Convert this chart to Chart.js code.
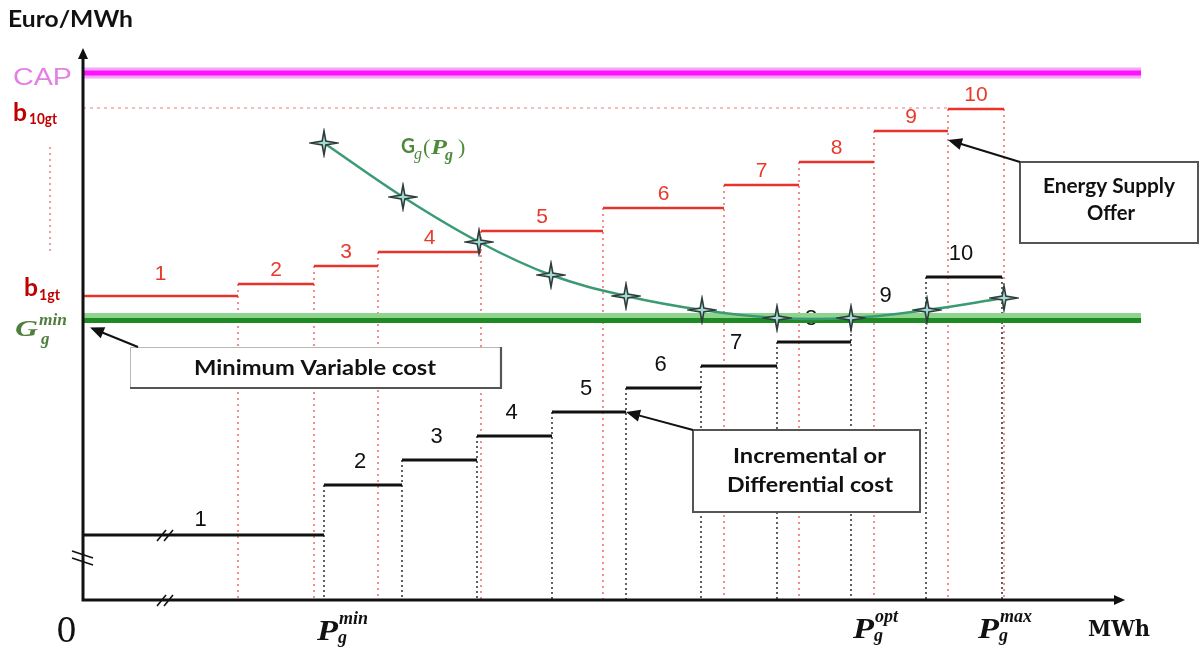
<!DOCTYPE html>
<html><head><meta charset="utf-8">
<script src="https://cdn.jsdelivr.net/npm/chart.js@4.4.1/dist/chart.umd.min.js"></script>
<style>html,body{margin:0;padding:0;background:#fff;overflow:hidden}canvas{display:block}</style>
</head><body>
<canvas id="c" width="1204" height="655"></canvas>
<script>
// ---- Data (schematic units: x = MWh, y = Euro/MWh) ----
const offerBreaks = [0,155,231,295,398,520,641,716,791,865,921];
const offerPrices = [304,316,334,348,369,392,415,438,469,491];
const offerLabels = ['1','2','3','4','5','6','7','8','9','10'];
const incBreaks = [0,241,319,394,469,543,618,694,768,843,919];
const incCosts = [65,115,140,164,188,212,234,258,281,323];
const incLabels = ['1','2','3','4','5','6','7','8','9','10'];
const avgCostX = [241,320,396,468,543,619,694,768,844,921];
const avgCostY = [457,403,358,325,304,290,282,282,290,302];
const capLevel = 527;
const b10Level = 492;
const gMinLevel = 279.5;
const lineEnd = 1058;
const xAxisEnd = 1042;
const yAxisEnd = 552;

// ---- build datasets from data ----
function stepSegments(breaks, vals){
  const pts=[];
  vals.forEach((v,i)=>{ pts.push({x:breaks[i],y:v},{x:breaks[i+1],y:v},{x:breaks[i+1],y:null}); });
  return pts;
}
function verticals(breaks, vals){
  const pts=[];
  for(let i=1;i<breaks.length;i++){
    const top = i<vals.length ? vals[i] : vals[vals.length-1];
    pts.push({x:breaks[i],y:top},{x:breaks[i],y:0},{x:breaks[i],y:null});
  }
  return pts;
}
function makeStar(){
  const c=document.createElement('canvas'); c.width=30; c.height=30;
  const g=c.getContext('2d'); const cx=15, cy=15;
  g.beginPath();
  for(let i=0;i<8;i++){
    const a=i*Math.PI/4-Math.PI/2;
    const rad = i%2===0 ? (i%4===0?12:13) : 2.6;
    g.lineTo(cx+rad*Math.cos(a), cy+rad*Math.sin(a));
  }
  g.closePath(); g.fillStyle='#a4dcd4'; g.fill();
  g.strokeStyle='#2e3c3c'; g.lineWidth=1.6; g.stroke();
  return c;
}
const star = makeStar();

const base = {showLine:true, pointRadius:0, pointHoverRadius:0, fill:false, spanGaps:false};
const datasets = [
  Object.assign({}, base, {label:'offerDots', data:verticals(offerBreaks,offerPrices), borderColor:'#ee7474', borderWidth:1.6, borderDash:[2,4], order:10}),
  Object.assign({}, base, {label:'incDots', data:verticals(incBreaks,incCosts), borderColor:'#606060', borderWidth:2, borderDash:[2,3], order:10}),
  Object.assign({}, base, {label:'b10', data:[{x:0,y:b10Level},{x:offerBreaks[9],y:b10Level}], borderColor:'#f0a8a8', borderWidth:1.6, borderDash:[3,4], order:10}),
  Object.assign({}, base, {label:'inc', data:stepSegments(incBreaks,incCosts), borderColor:'#111', borderWidth:3, order:8}),
  Object.assign({}, base, {label:'offer', data:stepSegments(offerBreaks,offerPrices), borderColor:'#e8332a', borderWidth:2.5, order:8}),
  Object.assign({}, base, {label:'capGlow', data:[{x:0,y:capLevel},{x:lineEnd,y:capLevel}], borderColor:'#f6a6f6', borderWidth:11, order:6}),
  Object.assign({}, base, {label:'cap', data:[{x:0,y:capLevel},{x:lineEnd,y:capLevel}], borderColor:'#ff10ff', borderWidth:5, order:5}),
  Object.assign({}, base, {label:'gmin', data:[{x:0,y:gMinLevel},{x:lineEnd,y:gMinLevel}], borderColor:'#1d8a26', borderWidth:5, order:4, _shadow:{color:'#8fd48c',dy:-5}}),
  Object.assign({}, base, {label:'avg', data:avgCostX.map((x,i)=>({x,y:avgCostY[i]})), borderColor:'#3a9a74', borderWidth:2.5, tension:0.38, pointRadius:12, pointStyle:star, order:2})
];

function fitText(ctx, text, font, color, x, y, width){
  ctx.font=font; const w=ctx.measureText(text).width; const s=width? width/w : 1;
  ctx.save(); ctx.translate(x,y); ctx.scale(s,1); ctx.fillStyle=color;
  ctx.textAlign='left'; ctx.textBaseline='alphabetic'; ctx.fillText(text,0,0); ctx.restore();
  return w*s;
}
function arrow(ctx, x1,y1,x2,y2){
  const a=Math.atan2(y2-y1,x2-x1), L=14, W=6;
  ctx.save(); ctx.strokeStyle='#111'; ctx.fillStyle='#111'; ctx.lineWidth=2;
  ctx.beginPath(); ctx.moveTo(x1,y1); ctx.lineTo(x2-L*0.8*Math.cos(a), y2-L*0.8*Math.sin(a)); ctx.stroke();
  ctx.beginPath(); ctx.moveTo(x2,y2);
  ctx.lineTo(x2-L*Math.cos(a)+W*Math.sin(a), y2-L*Math.sin(a)-W*Math.cos(a));
  ctx.lineTo(x2-L*Math.cos(a)-W*Math.sin(a), y2-L*Math.sin(a)+W*Math.cos(a));
  ctx.closePath(); ctx.fill(); ctx.restore();
}
function box(ctx,x,y,w,h,soft){
  ctx.save(); ctx.fillStyle='#fff'; ctx.fillRect(x,y,w,h);
  if(soft){
    ctx.strokeStyle='#b8b8b8'; ctx.lineWidth=1; ctx.strokeRect(x+0.5,y+0.5,w,h);
    ctx.strokeStyle='#555'; ctx.lineWidth=2.2; ctx.beginPath(); ctx.moveTo(x,y+h); ctx.lineTo(x+w,y+h); ctx.lineTo(x+w,y); ctx.stroke();
  } else { ctx.strokeStyle='#555'; ctx.lineWidth=2; ctx.strokeRect(x,y,w,h); }
  ctx.restore();
}
function breakMark(ctx,cx,cy){
  ctx.save(); ctx.strokeStyle='#111'; ctx.lineWidth=1.6;
  [-4,3].forEach(o=>{ ctx.beginPath(); ctx.moveTo(cx+o-4,cy+6); ctx.lineTo(cx+o+5,cy-5); ctx.stroke(); });
  ctx.restore();
}
function pLabel(ctx,x,b,sup){
  const ser='"Liberation Serif"';
  const col='#111';
  fitText(ctx,'P','bold italic 29px '+ser,col,x,b,21);
  fitText(ctx,sup,'bold italic 18px '+ser,col,x+22,b-16,null);
  fitText(ctx,'g','bold italic 18px '+ser,col,x+21,b+3,null);
}

const deco = {
  id:'deco',
  beforeDraw(chart){ const c=chart.ctx; c.save(); c.fillStyle='#fff'; c.fillRect(0,0,chart.width,chart.height); c.restore(); },
  beforeDatasetsDraw(chart){
    const c=chart.ctx, X=v=>chart.scales.x.getPixelForValue(v), Y=v=>chart.scales.y.getPixelForValue(v);
    c.save(); c.textAlign='center'; c.textBaseline='alphabetic';
    c.font='21px "Liberation Sans"'; c.fillStyle='#e8392b';
    offerLabels.forEach((t,i)=>{ c.fillText(t,(X(offerBreaks[i])+X(offerBreaks[i+1]))/2, Y(offerPrices[i])-(i===0?16:8)); });
    c.font='22px "Liberation Sans"'; c.fillStyle='#111';
    incLabels.forEach((t,i)=>{ c.fillText(t,(X(incBreaks[i])+X(incBreaks[i+1]))/2-3, Y(incCosts[i])-(i===0?9:17)); });
    c.restore();
  },
  beforeDatasetDraw(chart,args){
    const ds=chart.data.datasets[args.index];
    if(ds._shadow){ const c=chart.ctx; c.save(); c.shadowColor=ds._shadow.color; c.shadowOffsetY=ds._shadow.dy; c.shadowOffsetX=0; c.shadowBlur=0; ds._saved=true; }
  },
  afterDatasetDraw(chart,args){
    const ds=chart.data.datasets[args.index];
    if(ds._saved){ chart.ctx.restore(); ds._saved=false; }
  },
  afterDatasetsDraw(chart){
    const c=chart.ctx, X=v=>chart.scales.x.getPixelForValue(v), Y=v=>chart.scales.y.getPixelForValue(v);
    const ox=X(0), oy=Y(0);
    // axes
    c.save(); c.strokeStyle='#111'; c.fillStyle='#111'; c.lineWidth=3; c.lineCap='square';
    c.beginPath(); c.moveTo(ox,oy); c.lineTo(ox,Y(yAxisEnd)+8); c.moveTo(ox,oy); c.lineTo(X(xAxisEnd)-8,oy); c.stroke();
    c.beginPath(); c.moveTo(ox,Y(yAxisEnd)); c.lineTo(ox-5,Y(yAxisEnd)+11); c.lineTo(ox+5,Y(yAxisEnd)+11); c.closePath(); c.fill();
    c.beginPath(); c.moveTo(X(xAxisEnd),oy); c.lineTo(X(xAxisEnd)-11,oy-5); c.lineTo(X(xAxisEnd)-11,oy+5); c.closePath(); c.fill();
    c.restore();
    // break marks
    breakMark(c, X(82), Y(incCosts[0]));
    breakMark(c, X(82), oy);
    c.save(); c.strokeStyle='#111'; c.lineWidth=1.6;
    [[-7],[0]].forEach(o=>{ c.beginPath(); c.moveTo(ox-11,oy-42+o[0]); c.lineTo(ox+10,oy-35+o[0]); c.stroke(); });
    c.restore();
    // pink dotted vertical (left ellipsis)
    c.save(); c.strokeStyle='#e8a0a0'; c.lineWidth=2; c.setLineDash([2,4]);
    c.beginPath(); c.moveTo(50,147); c.lineTo(50,255); c.stroke(); c.restore();
    // callout boxes + arrows
    box(c,130,347,371,41,true);
    fitText(c,'Minimum Variable cost','bold 20px Lato','#111',194,375,242);
    arrow(c,138,347,ox+7,Y(gMinLevel)+7);
    box(c,1020,162,178,81,false);
    fitText(c,'Energy Supply','bold 20px Lato','#111',1043,193,132);
    fitText(c,'Offer','bold 20px Lato','#111',1087,220,48);
    arrow(c,1020,162,X(offerBreaks[9]),Y(offerPrices[8])+9);
    box(c,693,430,227,82,false);
    fitText(c,'Incremental or','bold 20px Lato','#111',733,463,153);
    fitText(c,'Differential cost','bold 20px Lato','#111',727,492,166);
    arrow(c,693,430,X(incBreaks[5]),Y(incCosts[4]));
    // axis titles & level labels
    fitText(c,'Euro/MWh','bold 22px Lato','#111',8,27,125);
    fitText(c,'CAP','24px "Liberation Sans"','#e47fe4',13,85,59);
    fitText(c,'b','bold 25px Lato','#c00000',13,121,14);
    fitText(c,'10gt','bold 15px Lato','#c00000',29,124,28);
    fitText(c,'b','bold 25px Lato','#c00000',24,296,14);
    fitText(c,'1gt','bold 15px Lato','#c00000',39,300,21);
    const gcol='#4f7f3d', ser='"Liberation Serif"';
    fitText(c,'G','bold italic 24px '+ser,gcol,15,336,23);
    fitText(c,'min','bold italic 17px '+ser,gcol,39,325,28);
    fitText(c,'g','bold italic 17px '+ser,gcol,41,344,null);
    // curve label
    const gl='#4f8a3c';
    fitText(c,'G','bold 20px Lato',gl,401,153,14);
    fitText(c,'g','italic 16px '+ser,gl,414,159,null);
    fitText(c,'(','22px '+ser,gl,423,154,null);
    fitText(c,'P','bold italic 22px '+ser,gl,431,154,16);
    fitText(c,'g','bold italic 16px '+ser,gl,445,160,null);
    fitText(c,')','22px '+ser,gl,458,154,null);
    // x axis labels
    fitText(c,'0','33px "DejaVu Serif"','#111',56,642,21);
    pLabel(c,317,640,'min');
    pLabel(c,853,638,'opt');
    pLabel(c,978,638,'max');
    fitText(c,'MWh','bold 23px "DejaVu Serif"','#111',1088,636,62);
  }
};

new Chart(document.getElementById('c'), {
  type:'scatter',
  data:{datasets},
  options:{
    responsive:false, animation:false, devicePixelRatio:1,
    layout:{padding:0, autoPadding:false},
    plugins:{legend:{display:false}, tooltip:{enabled:false}},
    events:[],
    scales:{
      x:{type:'linear', min:-83, max:1121, display:false},
      y:{type:'linear', min:-55, max:600, display:false}
    }
  },
  plugins:[deco]
});
</script>
</body></html>
